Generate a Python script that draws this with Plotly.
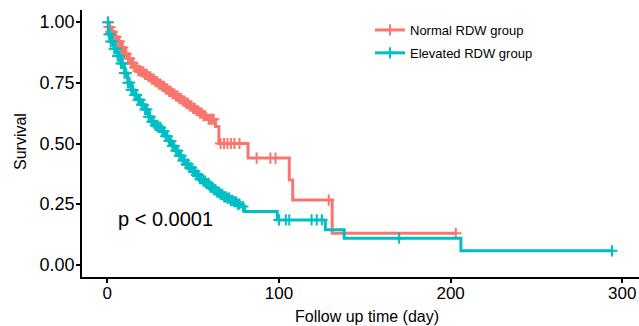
import plotly.graph_objects as go

# Kaplan-Meier step data
normal_t = [0, 1, 2, 4, 6, 8, 10, 12, 14, 16, 18, 20, 22, 24, 26, 28, 30, 32, 34, 36, 38, 40,
            42, 44, 46, 48, 50, 52, 54, 56, 58, 63, 65, 82, 106, 108, 131, 203]
normal_s = [1.0, 0.98, 0.96, 0.94, 0.92, 0.895, 0.87, 0.85, 0.83, 0.815, 0.80, 0.795, 0.785,
            0.775, 0.765, 0.755, 0.745, 0.735, 0.725, 0.715, 0.705, 0.695, 0.685, 0.675, 0.665,
            0.655, 0.645, 0.635, 0.625, 0.615, 0.60, 0.57, 0.50, 0.44, 0.35, 0.267, 0.13, 0.13]
normal_cens_t = [0.5, 1, 1.5, 2, 3, 4, 5, 6, 7, 8, 9, 10, 11, 12, 13, 14, 15, 16, 17, 18, 19,
                 20, 21, 22, 23, 24, 25, 26, 27, 28, 29, 30, 31, 32, 33, 34, 35, 36, 37, 38, 39,
                 40, 41, 42, 43, 44, 45, 46, 47, 48, 49, 50, 51, 52, 53, 54, 55, 56, 57, 59, 60,
                 61, 62, 66, 68, 70, 72, 74, 77, 87, 95, 98, 129, 203]

elev_t = [0, 0.5, 2, 4, 6, 8, 10, 12, 14, 16, 18, 20, 22, 24, 26, 28, 30, 32, 34, 36, 38, 40,
          42, 44, 46, 48, 50, 52, 54, 56, 58, 60, 62, 64, 66, 68, 70, 72, 74, 76, 78, 80, 99,
          127, 138, 206, 295]
elev_s = [1.0, 0.95, 0.92, 0.89, 0.86, 0.83, 0.79, 0.75, 0.72, 0.70, 0.68, 0.66, 0.64, 0.61,
          0.59, 0.575, 0.565, 0.55, 0.53, 0.51, 0.49, 0.47, 0.45, 0.43, 0.415, 0.40, 0.385,
          0.37, 0.355, 0.345, 0.335, 0.32, 0.31, 0.30, 0.29, 0.28, 0.275, 0.265, 0.26, 0.25,
          0.24, 0.22, 0.185, 0.145, 0.11, 0.058, 0.058]
elev_cens_t = [0.3, 1, 1.5, 2, 3, 4, 5, 6, 7, 8, 9, 10, 11, 12, 13, 14, 15, 16, 17, 18, 19, 20,
               21, 22, 23, 24, 25, 26, 27, 28, 29, 30, 31, 32, 33, 34, 35, 36, 37, 38, 39, 40,
               41, 42, 43, 44, 45, 46, 47, 48, 49, 50, 51, 52, 53, 54, 55, 56, 57, 58, 59, 60,
               61, 62, 63, 64, 65, 66, 67, 68, 69, 70, 71, 72, 73, 74, 75, 76, 77, 79,
               100, 104, 106, 119, 122, 125, 170, 294]

red = "#F8766D"
teal = "#00BFC4"

W, H = 639, 326
L, R, T, B = 82, 0, 10, 49
PW, PH = W - L - R, H - T - B


def step_value(ts, ss, t):
    v = ss[0]
    for ti, si in zip(ts, ss):
        if ti <= t:
            v = si
    return v


fig = go.Figure()
for name, ts, ss, cens, col, grp in [
    ("Normal RDW group", normal_t, normal_s, normal_cens_t, red, "a"),
    ("Elevated RDW group", elev_t, elev_s, elev_cens_t, teal, "b"),
]:
    fig.add_trace(go.Scatter(x=ts, y=ss, mode="lines", line=dict(color=col, width=3, shape="hv"),
                             showlegend=False, hoverinfo="skip"))
    fig.add_trace(go.Scatter(x=cens, y=[step_value(ts, ss, c) for c in cens], mode="markers",
                             marker=dict(symbol="cross-thin", size=8, line=dict(color=col, width=2)),
                             showlegend=False, hoverinfo="skip"))
    fig.add_trace(go.Scatter(x=[None], y=[None], mode="lines+markers", name=name, legendgroup=grp,
                             line=dict(color=col, width=3),
                             marker=dict(symbol="cross-thin", size=8, line=dict(color=col, width=2))))

fig.add_annotation(x=34, y=0.19, text="p < 0.0001", showarrow=False,
                   font=dict(size=20, color="black"))
# axis titles placed by pixel position
fig.add_annotation(x=(367 - L) / PW, y=-(316 - (H - B)) / PH, xref="paper", yref="paper",
                   text="Follow up time (day)", showarrow=False, yanchor="middle",
                   font=dict(size=16, color="black"))
fig.add_annotation(x=-(L - 20) / PW, y=(H - B - 142) / PH, xref="paper", yref="paper",
                   text="Survival", showarrow=False, textangle=-90, xanchor="center",
                   yanchor="middle", font=dict(size=16, color="black"))

fig.update_layout(
    width=W, height=H,
    margin=dict(l=L, r=R, t=T, b=B),
    paper_bgcolor="white", plot_bgcolor="white",
    font=dict(family="Liberation Sans, Arial", color="black"),
    legend=dict(x=(370 - L) / PW, y=1.0 - 5 / PH, xanchor="left", yanchor="top", font=dict(size=13),
                bgcolor="rgba(0,0,0,0)", tracegroupgap=3, traceorder="grouped"),
    xaxis=dict(range=[-14.75, 309.75], showgrid=False, zeroline=False, showline=True,
               linecolor="black", linewidth=1.5, ticks="outside", ticklen=4, tickwidth=1.5,
               tickcolor="black", tickvals=[0, 100, 200, 300], tickfont=dict(size=17),
               ticklabelstandoff=-4, automargin=False),
    yaxis=dict(range=[-0.05, 1.05], showgrid=False, zeroline=False, showline=True,
               linecolor="black", linewidth=1.5, ticks="outside", ticklen=4, tickwidth=1.5,
               tickcolor="black", tickvals=[0, 0.25, 0.5, 0.75, 1.0],
               ticktext=["0.00", "0.25", "0.50", "0.75", "1.00"], tickfont=dict(size=18),
               ticklabelstandoff=-2, automargin=False),
)

fig.write_html("out.html", config={"displayModeBar": False},
               post_script="document.body.style.margin='0';document.body.style.overflow='hidden';")
